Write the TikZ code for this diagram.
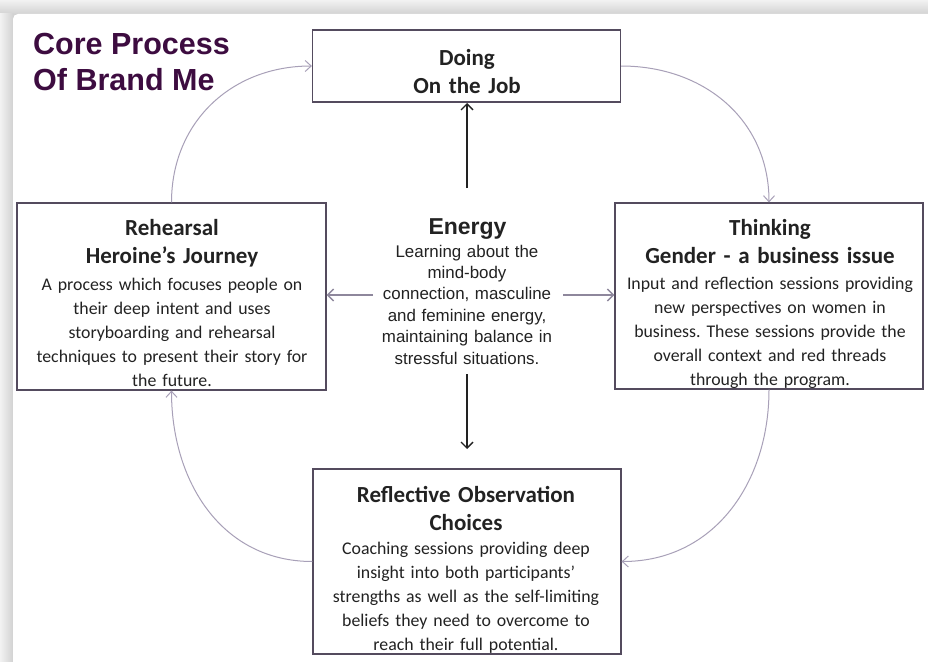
\documentclass[tikz,border=0pt]{standalone}
\usepackage{fontspec}
\setmainfont{Carlito}
\newfontfamily\arialf{Liberation Sans}
\usetikzlibrary{arrows.meta}
\frenchspacing
\definecolor{bgrey}{HTML}{D2D2D2}
\definecolor{bglight}{HTML}{F2F2F2}
\definecolor{boxline}{HTML}{544B5E}
\definecolor{curvecol}{HTML}{A8A0B8}
\definecolor{hcol}{HTML}{8E879C}
\definecolor{titlecol}{HTML}{3D0C40}
\definecolor{txt}{HTML}{222222}
\tikzset{
  boxnode/.style={draw=boxline, line width=1.2pt, fill=white, inner sep=0pt},
  hdrtext/.style={anchor=base, text width=300pt, align=center, inner sep=0pt, text=txt,
    font=\fontsize{23}{28.5}\selectfont\bfseries},
  bodytext/.style={anchor=base, text width=306pt, align=center, inner sep=0pt, text=txt,
    font=\fontsize{17.8}{24.1}\selectfont},
  cyc/.style={draw=curvecol, line width=1pt, -{Straight Barb[length=6pt,width=11pt]}},
  harrow/.style={draw=hcol, line width=1.4pt, -{Straight Barb[length=6pt,width=12pt]}},
  varrow/.style={draw=txt, line width=1.4pt, -{Straight Barb[length=6pt,width=12pt]}},
}
\begin{document}
\frenchspacing
\begin{tikzpicture}[x=1pt,y=-1pt]
\useasboundingbox (0,0) rectangle (928,661);
\begin{scope}
\clip (0,0) rectangle (928,661);
\fill[bgrey] (0,0) rectangle (928,661);
\shade[top color=bglight, bottom color=bgrey] (0,0) rectangle (928,14);
\shade[left color=bglight, right color=bgrey] (0,14) rectangle (13,661);
\fill[white, rounded corners=5pt] (13,14) rectangle (960,700);
\end{scope}

% title
\node[anchor=base west, inner sep=0pt, text=titlecol, font=\arialf\fontsize{30.5}{35}\selectfont\bfseries] (title1) at (33,55) {Core Process};
\node[anchor=base west, inner sep=0pt, text=titlecol, font=\arialf\fontsize{30.5}{35}\selectfont\bfseries] (title2) at (33,90) {Of Brand Me};

% boxes
\node[boxnode, minimum width=308pt, minimum height=72pt] (doing) at (466.5,66) {};
\node[boxnode, minimum width=309pt, minimum height=187pt] (reh) at (171.5,296.5) {};
\node[boxnode, minimum width=308pt, minimum height=186pt] (think) at (769,296) {};
\node[boxnode, minimum width=308pt, minimum height=185pt] (refl) at (467,561.5) {};

% box texts
\node[hdrtext] (doingt) at (467,65) {Doing\\On the Job};

\node[hdrtext] (reht) at (172,235) {Rehearsal\\Heroine’s Journey};
\node[bodytext] (rehb) at (172,290) {A process which focuses people on\\their deep intent and uses\\storyboarding and rehearsal\\techniques to present their story for\\the future.};

\node[hdrtext] (thinkt) at (770,235) {Thinking\\Gender - a business issue};
\node[bodytext] (thinkb) at (770,289) {Input and reflection sessions providing\\new perspectives on women in\\business. These sessions provide the\\overall context and red threads\\through the program.};

\node[hdrtext] (reflt) at (466,502) {Reflective Observation\\Choices};
\node[bodytext] (reflb) at (466,554) {Coaching sessions providing deep\\insight into both participants’\\strengths as well as the self-limiting\\beliefs they need to overcome to\\reach their full potential.};

% energy
\node[anchor=base, inner sep=0pt, text=txt, font=\arialf\fontsize{23}{27}\selectfont\bfseries] (energy) at (467.5,234) {Energy};
\node[anchor=base, text width=200pt, align=center, inner sep=0pt, text=txt, font=\arialf\fontsize{16.9}{21.4}\selectfont] (energyb) at (467,257) {Learning about the\\mind-body\\connection, masculine\\and feminine energy,\\maintaining balance in\\stressful situations.};

% connector end points
\coordinate (eup) at (467,188);
\coordinate (eupend) at (467,103);
\coordinate (edown) at (467,374);
\coordinate (edownend) at (467,449);
\coordinate (eleft) at (373,295);
\coordinate (eright) at (563,295);

\draw[varrow] (eup) -- (eupend);
\draw[varrow] (edown) -- (edownend);
\draw[harrow] (eleft) -- (reh.east |- eleft);
\draw[harrow] (eright) -- (think.west |- eright);

% cycle
\draw[cyc] (doing.east) to[out=0,in=90,looseness=1.05] (think.north);
\draw[cyc] (think.south) to[out=-90,in=0,looseness=1.05] (refl.east);
\draw[cyc] (refl.west) to[out=180,in=-90,looseness=1.05] (reh.south);
\draw[cyc] (reh.north) to[out=90,in=180,looseness=1.05] (doing.west);
\end{tikzpicture}
\end{document}
